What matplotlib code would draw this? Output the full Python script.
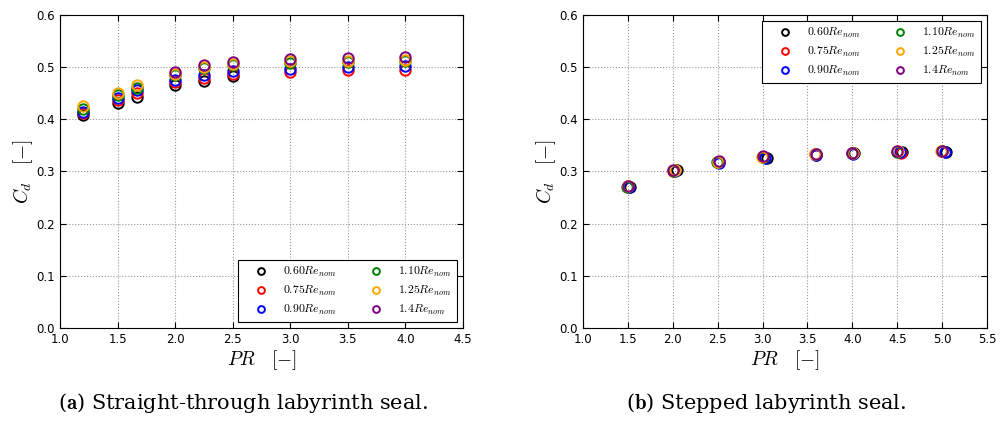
import matplotlib as mpl
import matplotlib.pyplot as plt

mpl.rcParams['mathtext.fontset'] = 'cm'
mpl.rcParams['xtick.direction'] = 'in'
mpl.rcParams['ytick.direction'] = 'in'
mpl.rcParams['xtick.top'] = True
mpl.rcParams['ytick.right'] = True

labels = [r'$0.60Re_{nom}$', r'$0.75Re_{nom}$', r'$0.90Re_{nom}$',
          r'$1.10Re_{nom}$', r'$1.25Re_{nom}$', r'$1.4Re_{nom}$']
colors = ['black', 'red', 'blue', 'green', 'orange', 'purple']

# (a) straight-through labyrinth seal
pr_straight = [
    [1.2, 1.5, 1.67, 2.0, 2.25, 2.5],
    [1.2, 1.5, 1.67, 2.0, 2.25, 2.5, 3.0, 3.5, 4.0],
    [1.2, 1.5, 1.67, 2.0, 2.25, 2.5, 3.0, 3.5, 4.0],
    [1.2, 1.5, 1.67, 2.0, 2.25, 2.5, 3.0, 3.5, 4.0],
    [1.2, 1.5, 1.67, 2.0, 2.25, 2.5, 3.0, 3.5, 4.0],
    [2.0, 2.25, 2.5, 3.0, 3.5, 4.0],
]
cd_straight = [
    [0.408, 0.431, 0.442, 0.465, 0.474, 0.483],
    [0.412, 0.437, 0.451, 0.471, 0.480, 0.487, 0.490, 0.494, 0.495],
    [0.415, 0.441, 0.456, 0.476, 0.485, 0.492, 0.497, 0.500, 0.503],
    [0.419, 0.446, 0.460, 0.485, 0.498, 0.505, 0.508, 0.510, 0.512],
    [0.425, 0.451, 0.466, 0.487, 0.500, 0.507, 0.511, 0.512, 0.514],
    [0.490, 0.504, 0.510, 0.515, 0.518, 0.520],
]

# (b) stepped labyrinth seal
pr_stepped = [
    [1.52, 2.05, 2.52, 3.05, 3.60, 4.02, 4.55, 5.04],
    [1.50, 2.00, 2.50, 3.02, 3.58, 4.00, 4.54, 5.00],
    [1.51, 2.03, 2.51, 3.03, 3.59, 4.01, 4.53, 5.03],
    [1.49, 2.01, 2.49, 3.00, 3.60, 4.00, 4.50, 5.00],
    [1.50, 2.02, 2.50, 2.99, 3.58, 4.01, 4.51, 4.99],
    [1.50, 2.00, 2.51, 3.00, 3.59, 4.00, 4.50, 5.00],
]
cd_stepped = [
    [0.271, 0.302, 0.318, 0.326, 0.332, 0.335, 0.337, 0.338],
    [0.272, 0.301, 0.318, 0.328, 0.333, 0.336, 0.336, 0.339],
    [0.271, 0.300, 0.317, 0.326, 0.332, 0.334, 0.337, 0.337],
    [0.270, 0.301, 0.318, 0.327, 0.333, 0.335, 0.338, 0.339],
    [0.272, 0.302, 0.319, 0.328, 0.334, 0.336, 0.339, 0.340],
    [0.273, 0.303, 0.320, 0.329, 0.334, 0.336, 0.339, 0.340],
]

fig = plt.figure(figsize=(10.03, 4.21), dpi=100)
ax1 = fig.add_axes([60 / 1003, 1 - 328 / 421, 403 / 1003, 313 / 421])
ax2 = fig.add_axes([583 / 1003, 1 - 328 / 421, 404 / 1003, 313 / 421])


def draw(ax, prs, cds, xmax, loc):
    for pr, cd, c, lab in zip(prs, cds, colors, labels):
        ax.plot(pr, cd, 'o', mfc='none', mec=c, ms=7.5, mew=1.4, label=lab)
    ax.set_xlim(1.0, xmax)
    ax.set_ylim(0.0, 0.6)
    ax.grid(True, linestyle=':', color='0.6', linewidth=0.8)
    ax.tick_params(labelsize=8.5, length=4)
    ax.xaxis.set_major_formatter(mpl.ticker.FormatStrFormatter('%.1f'))
    ax.yaxis.set_major_formatter(mpl.ticker.FormatStrFormatter('%.1f'))
    ax.set_xlabel(r'$PR\quad[-]$', fontsize=14, labelpad=2)
    ax.set_ylabel(r'$C_d\quad[-]$', fontsize=14, labelpad=1)
    leg = ax.legend(loc=loc, ncol=2, numpoints=1, fontsize=8.5, fancybox=False,
                    edgecolor='black', framealpha=1, markerscale=0.65,
                    handlelength=3.0, handletextpad=0.4, columnspacing=1.8,
                    borderpad=0.45, labelspacing=0.42, borderaxespad=0.5)
    leg.get_frame().set_linewidth(0.8)


draw(ax1, pr_straight, cd_straight, 4.5, 'lower right')
draw(ax2, pr_stepped, cd_stepped, 5.5, 'upper right')

fig.text(243 / 1003, 1 - 403 / 421, r'($\mathbf{a}$) Straight-through labyrinth seal.',
         ha='center', va='center', fontsize=15, family='DejaVu Serif')
fig.text(766 / 1003, 1 - 403 / 421, r'($\mathbf{b}$) Stepped labyrinth seal.',
         ha='center', va='center', fontsize=15, family='DejaVu Serif')

fig.savefig('out.png', dpi=100)
